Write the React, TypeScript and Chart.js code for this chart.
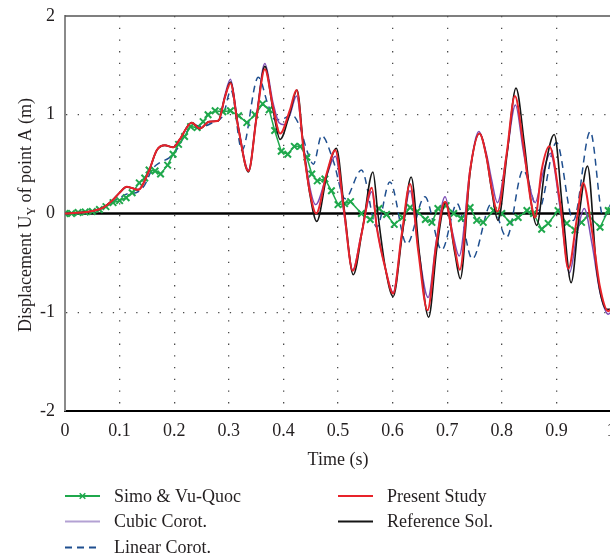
import React, { useEffect, useRef } from "react";
import { Chart, registerables } from "chart.js";

Chart.register(...registerables);

// ---------- axis / label data ----------
const xMin = 0;
const xMax = 1;
const xStep = 0.1;
const yMin = -2;
const yMax = 2;
const yStep = 1;
const xTitle = "Time (s)";
const yTitleMain = "Displacement U";
const yTitleSub = "Y";
const yTitleRest = " of point A (m)";

// ---------- series data (time s, displacement m) ----------
const simoT = [0, 0.012, 0.024, 0.037, 0.05, 0.063, 0.075, 0.088, 0.1, 0.112, 0.123, 0.136, 0.146, 0.154, 0.165, 0.175, 0.188, 0.198, 0.208, 0.219, 0.23, 0.242, 0.253, 0.262, 0.275, 0.289, 0.303, 0.318, 0.333, 0.348, 0.362, 0.374, 0.384, 0.396, 0.408, 0.42, 0.431, 0.443, 0.452, 0.462, 0.476, 0.488, 0.5, 0.512, 0.523, 0.543, 0.559, 0.575, 0.589, 0.603, 0.618, 0.632, 0.645, 0.66, 0.672, 0.683, 0.698, 0.712, 0.726, 0.742, 0.754, 0.766, 0.785, 0.8, 0.815, 0.83, 0.846, 0.858, 0.873, 0.885, 0.903, 0.919, 0.934, 0.946, 0.958, 0.98, 0.995, 1.0];
const simoV = [0, 0.0, 0.01, 0.015, 0.02, 0.04, 0.07, 0.11, 0.13, 0.16, 0.21, 0.31, 0.36, 0.44, 0.43, 0.4, 0.49, 0.6, 0.7, 0.78, 0.88, 0.87, 0.93, 1.0, 1.04, 1.03, 1.04, 0.99, 0.92, 1.0, 1.11, 1.05, 0.84, 0.63, 0.6, 0.68, 0.68, 0.57, 0.4, 0.33, 0.35, 0.23, 0.09, 0.1, 0.12, 0.0, -0.06, 0.05, -0.01, -0.11, -0.04, 0.06, 0.02, -0.06, -0.09, 0.05, 0.08, 0.0, -0.05, 0.06, -0.07, -0.09, 0.03, 0.0, -0.09, -0.04, 0.03, 0.0, -0.16, -0.1, 0.03, -0.1, -0.17, -0.09, -0.02, -0.14, 0.03, 0.03];

const cubicT = [0, 0.03, 0.05, 0.07, 0.088, 0.1, 0.113, 0.124, 0.134, 0.153, 0.168, 0.183, 0.198, 0.21, 0.232, 0.247, 0.264, 0.281, 0.293, 0.303, 0.317, 0.336, 0.351, 0.366, 0.381, 0.392, 0.402, 0.412, 0.424, 0.437, 0.449, 0.459, 0.479, 0.495, 0.511, 0.527, 0.543, 0.562, 0.571, 0.586, 0.601, 0.617, 0.632, 0.647, 0.665, 0.68, 0.696, 0.71, 0.722, 0.742, 0.758, 0.772, 0.781, 0.792, 0.809, 0.825, 0.839, 0.852, 0.861, 0.875, 0.889, 0.907, 0.924, 0.938, 0.951, 0.965, 0.98, 0.995, 1.0];
const cubicV = [0, 0.01, 0.025, 0.06, 0.14, 0.21, 0.27, 0.255, 0.24, 0.42, 0.64, 0.69, 0.67, 0.75, 0.92, 0.86, 0.93, 0.94, 1.2, 1.36, 0.9, 0.44, 1.0, 1.52, 1.12, 0.92, 0.9, 1.0, 1.19, 0.68, 0.25, 0.09, 0.38, 0.58, 0.0, -0.57, -0.2, 0.22, -0.14, -0.54, -0.8, -0.22, 0.23, -0.35, -0.85, -0.28, 0.17, -0.2, -0.43, 0.45, 0.83, 0.6, 0.35, 0.11, 0.6, 1.1, 0.65, 0.25, 0.11, 0.4, 0.61, 0.05, -0.6, -0.2, 0.05, -0.3, -0.8, -1.02, -1.0];

const linearT = [0, 0.03, 0.05, 0.07, 0.088, 0.1, 0.115, 0.13, 0.145, 0.16, 0.175, 0.19, 0.205, 0.22, 0.235, 0.25, 0.27, 0.29, 0.304, 0.324, 0.354, 0.372, 0.385, 0.4, 0.415, 0.43, 0.443, 0.455, 0.47, 0.491, 0.513, 0.543, 0.571, 0.595, 0.626, 0.659, 0.69, 0.718, 0.746, 0.781, 0.809, 0.839, 0.867, 0.9, 0.931, 0.962, 0.986, 1.0];
const linearV = [0, 0.01, 0.025, 0.06, 0.12, 0.16, 0.2, 0.21, 0.28, 0.45, 0.52, 0.56, 0.65, 0.8, 0.9, 0.88, 0.92, 1.0, 1.25, 0.64, 1.38, 1.1, 0.95, 0.96, 1.0, 0.88, 0.64, 0.5, 0.79, 0.54, 0.15, 0.44, -0.14, 0.32, -0.31, 0.17, -0.37, 0.1, -0.46, 0.1, -0.24, 0.44, 0.03, 0.72, -0.07, 0.83, -0.04, 0.1];

const presentT = [0, 0.03, 0.05, 0.07, 0.088, 0.1, 0.113, 0.124, 0.134, 0.153, 0.168, 0.183, 0.198, 0.21, 0.232, 0.247, 0.264, 0.281, 0.293, 0.303, 0.317, 0.336, 0.351, 0.366, 0.381, 0.394, 0.412, 0.424, 0.437, 0.449, 0.46, 0.479, 0.495, 0.511, 0.527, 0.543, 0.562, 0.571, 0.586, 0.601, 0.617, 0.632, 0.647, 0.664, 0.68, 0.696, 0.714, 0.723, 0.742, 0.759, 0.772, 0.781, 0.792, 0.809, 0.824, 0.839, 0.852, 0.861, 0.873, 0.887, 0.907, 0.922, 0.937, 0.949, 0.965, 0.98, 0.995, 1.0];
const presentV = [0, 0.01, 0.025, 0.06, 0.14, 0.21, 0.27, 0.255, 0.24, 0.42, 0.64, 0.69, 0.67, 0.75, 0.92, 0.86, 0.93, 0.94, 1.18, 1.32, 0.88, 0.43, 0.98, 1.46, 1.08, 0.81, 1.05, 1.25, 0.64, 0.2, 0.0, 0.4, 0.64, 0.03, -0.58, -0.21, 0.26, -0.14, -0.54, -0.81, -0.2, 0.3, -0.38, -0.98, -0.31, 0.12, -0.36, -0.57, 0.44, 0.81, 0.57, 0.27, 0.02, 0.61, 1.19, 0.71, 0.17, -0.04, 0.44, 0.68, 0.1, -0.56, -0.07, 0.31, -0.17, -0.75, -0.99, -0.97];

const referenceT = [0, 0.03, 0.05, 0.07, 0.088, 0.1, 0.113, 0.124, 0.134, 0.153, 0.168, 0.183, 0.198, 0.21, 0.232, 0.247, 0.264, 0.281, 0.293, 0.303, 0.317, 0.336, 0.351, 0.366, 0.381, 0.394, 0.412, 0.425, 0.437, 0.449, 0.461, 0.48, 0.497, 0.512, 0.528, 0.545, 0.564, 0.573, 0.587, 0.601, 0.618, 0.634, 0.649, 0.666, 0.681, 0.697, 0.714, 0.724, 0.742, 0.759, 0.772, 0.781, 0.793, 0.81, 0.826, 0.841, 0.854, 0.864, 0.879, 0.896, 0.912, 0.927, 0.942, 0.957, 0.974, 0.992, 1.0];
const referenceV = [0, 0.01, 0.025, 0.06, 0.14, 0.21, 0.27, 0.255, 0.24, 0.42, 0.64, 0.69, 0.67, 0.75, 0.92, 0.86, 0.93, 0.94, 1.18, 1.33, 0.88, 0.42, 0.98, 1.49, 1.05, 0.75, 1.02, 1.25, 0.66, 0.18, -0.08, 0.4, 0.66, 0.02, -0.62, -0.15, 0.42, 0.0, -0.56, -0.84, -0.2, 0.37, -0.4, -1.05, -0.35, 0.11, -0.4, -0.66, 0.42, 0.81, 0.57, 0.25, -0.07, 0.62, 1.27, 0.72, 0.1, -0.12, 0.45, 0.8, 0.0, -0.7, 0.0, 0.48, -0.58, -0.97, -0.97];

// ---------- styles ----------
const SERIF = "'Liberation Serif', 'Times New Roman', serif";
const TEXT = "#231f20";
const GREEN = "#1fa84c";
const PURPLE = "#7c4db4";
const PURPLE_LEGEND = "#b3a1d3";
const BLUE = "#1f4f8f";
const RED = "#e8232a";
const BLACK = "#151515";

const toPts = (t: number[], v: number[]) => t.map((x, i) => ({ x, y: v[i] }));

const legendLayout = [
  { col: 0, row: 0 },
  { col: 0, row: 1 },
  { col: 0, row: 2 },
  { col: 1, row: 0 },
  { col: 1, row: 1 },
];

const decorPlugin = {
  id: "decor",
  beforeDatasetsDraw(chart: any) {
    const { ctx, chartArea, scales } = chart;
    ctx.save();
    ctx.strokeStyle = "#555";
    ctx.lineWidth = 1.5;
    ctx.beginPath();
    ctx.moveTo(chartArea.left, chartArea.top);
    ctx.lineTo(chartArea.right, chartArea.top);
    ctx.stroke();
    const y0 = scales.y.getPixelForValue(0);
    ctx.strokeStyle = "#000";
    ctx.lineWidth = 2.5;
    ctx.beginPath();
    ctx.moveTo(chartArea.left, y0);
    ctx.lineTo(chartArea.right, y0);
    ctx.stroke();
    ctx.restore();
  },
  afterDraw(chart: any) {
    const { ctx } = chart;
    ctx.save();
    const main = `18px ${SERIF}`;
    const sub = `12px ${SERIF}`;
    ctx.font = main;
    const w1 = ctx.measureText(yTitleMain).width;
    const w3 = ctx.measureText(yTitleRest).width;
    ctx.font = sub;
    const w2 = ctx.measureText(yTitleSub).width;
    const total = w1 + w2 + w3;
    ctx.translate(31, 215);
    ctx.rotate(-Math.PI / 2);
    ctx.fillStyle = TEXT;
    ctx.textBaseline = "alphabetic";
    ctx.textAlign = "left";
    let x = -total / 2;
    ctx.font = main;
    ctx.fillText(yTitleMain, x, 0);
    x += w1;
    ctx.font = sub;
    ctx.fillText(yTitleSub, x, 4);
    x += w2;
    ctx.font = main;
    ctx.fillText(yTitleRest, x, 0);
    ctx.restore();

    ctx.save();
    const colX = [65, 338];
    const rowY = [496, 521.5, 547.5];
    const sampleW = 35;
    chart.data.datasets.forEach((ds: any, i: number) => {
      const pos = legendLayout[i];
      const x0 = colX[pos.col];
      const y = rowY[pos.row];
      ctx.save();
      ctx.strokeStyle = ds.legendColor || ds.borderColor;
      ctx.lineWidth = 2;
      ctx.setLineDash(ds.borderDash || []);
      ctx.beginPath();
      ctx.moveTo(x0, y);
      ctx.lineTo(x0 + sampleW, y);
      ctx.stroke();
      ctx.setLineDash([]);
      if (ds.pointStyle === "crossRot" && ds.pointRadius > 0) {
        const c = x0 + sampleW / 2;
        const r = 2.8;
        ctx.lineWidth = 1.5;
        ctx.beginPath();
        ctx.moveTo(c - r, y - r);
        ctx.lineTo(c + r, y + r);
        ctx.moveTo(c - r, y + r);
        ctx.lineTo(c + r, y - r);
        ctx.stroke();
      }
      ctx.restore();
      ctx.fillStyle = TEXT;
      ctx.font = `18px ${SERIF}`;
      ctx.textBaseline = "middle";
      ctx.textAlign = "left";
      ctx.fillText(ds.label, x0 + 49, y + 1);
    });
    ctx.restore();
  },
};

export default function App() {
  const ref = useRef<HTMLCanvasElement | null>(null);

  useEffect(() => {
    if (!ref.current) return;
    const lineBase = {
      pointRadius: 0,
      pointHoverRadius: 0,
      fill: false,
      cubicInterpolationMode: "monotone" as const,
    };
    const chart = new Chart(ref.current, {
      type: "line",
      data: {
        datasets: [
          {
            label: "Simo & Vu-Quoc",
            data: toPts(simoT, simoV),
            borderColor: GREEN,
            borderWidth: 1.5,
            pointStyle: "crossRot",
            pointRadius: 4.6,
            pointBorderWidth: 2,
            pointBorderColor: GREEN,
            pointBackgroundColor: GREEN,
            tension: 0,
            fill: false,
            order: 4,
          },
          {
            ...lineBase,
            label: "Cubic Corot.",
            data: toPts(cubicT, cubicV),
            borderColor: PURPLE,
            legendColor: PURPLE_LEGEND,
            borderWidth: 1.5,
            order: 3,
          } as any,
          {
            ...lineBase,
            label: "Linear Corot.",
            data: toPts(linearT, linearV),
            borderColor: BLUE,
            borderWidth: 1.5,
            borderDash: [7, 5],
            order: 5,
          },
          {
            ...lineBase,
            label: "Present Study",
            data: toPts(presentT, presentV),
            borderColor: RED,
            borderWidth: 2,
            order: 1,
          },
          {
            ...lineBase,
            label: "Reference Sol.",
            data: toPts(referenceT, referenceV),
            borderColor: BLACK,
            borderWidth: 1.6,
            order: 2,
          },
        ],
      },
      options: {
        responsive: false,
        animation: false,
        devicePixelRatio: 1,
        layout: { padding: { left: 0, top: 16, right: 14, bottom: 84 } },
        plugins: {
          legend: { display: false },
          tooltip: { enabled: false },
        },
        scales: {
          x: {
            type: "linear",
            min: xMin,
            max: xMax,
            afterFit: (s: any) => {
              s.height = 60;
              s.paddingLeft = 0;
              s.paddingRight = 0;
            },
            ticks: {
              stepSize: xStep,
              padding: 9,
              autoSkip: false,
              maxRotation: 0,
              color: TEXT,
              font: { family: SERIF, size: 18 },
              callback: (v: any) => String(Math.round(Number(v) * 10) / 10),
            },
            grid: {
              drawTicks: false,
              lineWidth: 1.3,
              color: (c: any) =>
                c.tick && c.tick.value > xMin + 1e-6 && c.tick.value < xMax - 1e-6 ? "#4a4a4a" : "rgba(0,0,0,0)",
            },
            border: { display: true, color: "#000", width: 2, dash: [1.3, 10.4] },
            title: {
              display: true,
              text: xTitle,
              color: TEXT,
              font: { family: SERIF, size: 18 },
              padding: { top: 0, bottom: 0 },
            },
          },
          y: {
            type: "linear",
            min: yMin,
            max: yMax,
            afterFit: (s: any) => {
              s.width = 65;
              s.paddingTop = 0;
              s.paddingBottom = 0;
            },
            ticks: {
              stepSize: yStep,
              padding: 10,
              color: TEXT,
              font: { family: SERIF, size: 18 },
            },
            grid: {
              drawTicks: false,
              lineWidth: 1.3,
              color: (c: any) =>
                c.tick && Math.abs(c.tick.value) === 1 ? "#4a4a4a" : "rgba(0,0,0,0)",
            },
            border: { display: true, color: "#8a8a8a", width: 2, dash: [1.3, 10.4] },
          },
        },
      },
      plugins: [decorPlugin],
    });
    return () => chart.destroy();
  }, []);

  return (
    <div
      style={{
        position: "fixed",
        left: 0,
        top: 0,
        width: 610,
        height: 555,
        overflow: "hidden",
        background: "#fff",
      }}
    >
      <canvas ref={ref} width={625} height={555} style={{ display: "block" }} />
    </div>
  );
}
